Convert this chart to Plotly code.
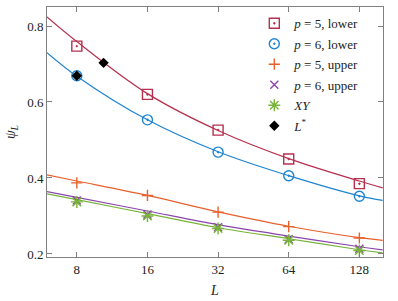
import plotly.graph_objects as go

# ---- data ----
L = [8, 16, 32, 64, 128]
p5_lower = [0.747, 0.620, 0.526, 0.450, 0.385]
p6_lower = [0.669, 0.553, 0.468, 0.406, 0.352]
p5_upper = [0.387, 0.354, 0.310, 0.272, 0.242]
p6_upper = [0.341, 0.304, 0.270, 0.239, 0.214]
xy = [0.337, 0.300, 0.267, 0.236, 0.209]
Lstar_L = [8, 10.4]
Lstar_psi = [0.669, 0.703]

# fitted curves
L_fit = [5.97, 8, 16, 32, 64, 128, 161]
fit_p5_lower = [0.824, 0.759, 0.622, 0.525, 0.451, 0.392, 0.374]
fit_p6_lower = [0.730, 0.668, 0.553, 0.469, 0.406, 0.353, 0.341]
fit_p5_upper = [0.408, 0.392, 0.354, 0.311, 0.273, 0.243, 0.236]
fit_p6_upper = [0.364, 0.349, 0.313, 0.277, 0.247, 0.219, 0.211]
fit_xy = [0.358, 0.343, 0.306, 0.269, 0.240, 0.211, 0.203]

x_ticks = [8, 16, 32, 64, 128]
y_ticks = [0.2, 0.4, 0.6, 0.8]

RED = "#B5304F"
BLUE = "#1F85D0"
ORANGE = "#E8602C"
PURPLE = "#8B44AC"
GREEN = "#78B33A"
SERIF = "Liberation Serif, Times New Roman, DejaVu Serif, serif"

fig = go.Figure()

for yv, c in [(fit_p5_lower, RED), (fit_p6_lower, BLUE), (fit_p5_upper, ORANGE),
              (fit_p6_upper, PURPLE), (fit_xy, GREEN)]:
    fig.add_trace(go.Scatter(x=L_fit, y=yv, mode="lines", line=dict(color=c, width=1.2, shape="spline"),
                             showlegend=False, hoverinfo="skip"))

series = [
    ("<i>p</i> = 5, lower", p5_lower, RED, "square-open-dot", 10),
    ("<i>p</i> = 6, lower", p6_lower, BLUE, "circle-open-dot", 10),
    ("<i>p</i> = 5, upper", p5_upper, ORANGE, "cross-thin-open", 8),
    ("<i>p</i> = 6, upper", p6_upper, PURPLE, "x-thin-open", 8),
    ("<i>XY</i>", xy, GREEN, "asterisk-open", 10),
]
for i, (name, yv, c, sym, sz) in enumerate(series):
    fig.add_trace(go.Scatter(x=L, y=yv, mode="markers", name=name, legendgroup=f"g{i}",
                             marker=dict(symbol=sym, size=sz, color=c, line=dict(color=c, width=1.4))))

fig.add_trace(go.Scatter(x=Lstar_L, y=Lstar_psi, mode="markers", name="<i>L</i><sup>*</sup>",
                         legendgroup="g5", marker=dict(symbol="diamond", size=8, color="black")))

axis_common = dict(showline=True, linecolor="#808080", linewidth=1, mirror="ticks",
                   ticks="inside", ticklen=5, tickcolor="#808080", showgrid=False, zeroline=False,
                   tickfont=dict(family=SERIF, size=13, color="#222"))

fig.update_xaxes(type="log", range=[0.776, 2.208], tickvals=x_ticks, ticktext=[str(v) for v in x_ticks],
                 title=dict(text="<i>L</i>", font=dict(family=SERIF, size=14, color="#222"), standoff=9),
                 **axis_common)
fig.update_yaxes(range=[0.192, 0.85], tickvals=y_ticks, ticktext=[f"{v:.1f}" for v in y_ticks],
                 title=dict(text="<i>ψ<sub>L</sub></i>", font=dict(family=SERIF, size=14, color="#222"),
                            standoff=8),
                 **axis_common)

fig.update_layout(
    width=398, height=301,
    margin=dict(l=47, r=15, t=6, b=43),
    plot_bgcolor="white", paper_bgcolor="white",
    font=dict(family=SERIF, size=13, color="#222"),
    legend=dict(x=0.617, y=0.995, xanchor="left", yanchor="top", bgcolor="rgba(0,0,0,0)",
                font=dict(family=SERIF, size=13, color="#222"), tracegroupgap=0.6),
)

fig.write_html("out.html", config={"displayModeBar": False},
               post_script="document.body.style.margin='0';")
